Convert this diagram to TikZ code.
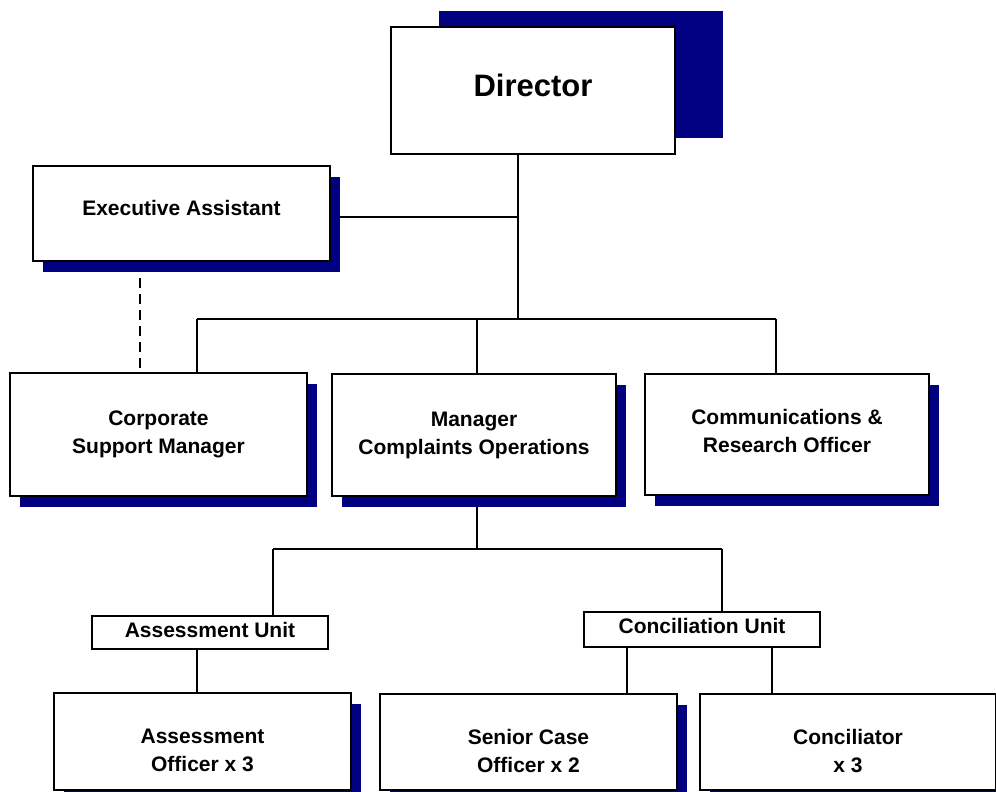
\documentclass[tikz,border=0pt]{standalone}
\usepackage{fontspec}
\setmainfont{Liberation Sans}
\usepackage{xcolor}
\usetikzlibrary{
    shadows,
    backgrounds,
    positioning
}
\definecolor{shadowblue}{HTML}{000080}
\newcommand{\lift}[1]{\rule[-#1]{0pt}{#1}}
\newcommand{\drop}[1]{\rule{0pt}{#1}}

\begin{document}
\begin{tikzpicture}[x=0.5pt, y=-0.5pt,
    box/.style={draw, line width=1pt, fill=white, align=center, inner sep=0pt,
        font=\bfseries\fontsize{10.5}{14}\selectfont},
    post/.style={box, drop shadow={shadow xshift=5pt, shadow yshift=-5.5pt, fill=shadowblue, opacity=1}},
    head/.style={box, font=\bfseries\fontsize{15.5}{18}\selectfont,
        drop shadow={shadow xshift=23.75pt, shadow yshift=8pt, fill=shadowblue, opacity=1}},
    unit/.style={draw, line width=0.6pt, fill=white, inner sep=0pt,
        font=\bfseries\fontsize{10.5}{14}\selectfont},
    link/.style={line width=0.7pt},
    dotlink/.style={line width=0.7pt, dash pattern=on 5pt off 3pt}]
                                \useasboundingbox (0,0) rectangle (996,792);
                                \clip (0,0) rectangle (996,792);
                                \node[head, minimum width=142pt, minimum height=63.5pt] (dir) at (533, 90.5) {Director\lift{5pt}};
                                \node[post, minimum width=148.5pt, minimum height=47.5pt] (ea) at (181.5, 213.5) {Executive Assistant\lift{6pt}};
                                \node[post, minimum width=148.5pt, minimum height=61.5pt] (csm) at (158.5, 434.5) {Corporate\\Support Manager};
                                \node[post, minimum width=142pt, minimum height=61pt] (mco) at (474, 435) {Manager\\Complaints Operations};
                                \node[post, minimum width=142pt, minimum height=60.5pt] (cro) at (787, 434.5) {Communications \&\\Research Officer\lift{4pt}};
                                \node[unit, minimum width=118pt, minimum height=16.5pt] (au) at (210, 632.5) {Assessment Unit\lift{2.5pt}};
                                \node[unit, minimum width=118pt, minimum height=17.5pt] (cu) at (702, 629.5) {Conciliation Unit\lift{3.5pt}};
                                \node[post, minimum width=148.5pt, minimum height=48.5pt] (ao) at (202.5, 741.5) {\drop{16.5pt}Assessment\\Officer x 3};
                                \node[post, minimum width=148.5pt, minimum height=48pt] (sco) at (528.5, 742) {\drop{16.5pt}Senior Case\\Officer x 2};
                                \node[post, minimum width=148pt, minimum height=48pt] (con) at (848, 742) {\drop{16.5pt}Conciliator\\x 3};
                                \coordinate (top) at (518, 319);
                                \coordinate (eatap) at (518, 217);
                                \coordinate (csmtap) at (197, 319);
                                \coordinate (mcotap) at (477, 319);
                                \coordinate (crotap) at (776, 319);
                                \coordinate (dashx) at (140, 0);
                                \coordinate (aotap) at (273, 549);
                                \coordinate (cutap) at (722, 549);
                                \coordinate (autap) at (197, 0);
                                \coordinate (scotap) at (627, 0);
                                \coordinate (contap) at (772, 0);
                                \begin{pgfonlayer}{background}
                                \draw[link]
                                (dir.south -| top) -- (top)
                                (eatap -| ea.east) -- (eatap)
                                (csmtap) -- (crotap)
                                (csmtap) -- (csmtap |- csm.north)
                                (mcotap) -- (mcotap |- mco.north)
                                (crotap) -- (crotap |- cro.north)
                                (mcotap |- mco.south) -- (mcotap |- aotap)
                                (aotap) -- (cutap)
                                (aotap) -- (aotap |- au.north)
                                (cutap) -- (cutap |- cu.north)
                                (autap |- au.south) -- (autap |- ao.north)
                                (scotap |- cu.south) -- (scotap |- sco.north)
                                (contap |- cu.south) -- (contap |- con.north);
                                \draw[dotlink] (dashx |- ea.south) -- (dashx |- csm.north);
                                \end{pgfonlayer}
                            \end{tikzpicture}
\end{document}
